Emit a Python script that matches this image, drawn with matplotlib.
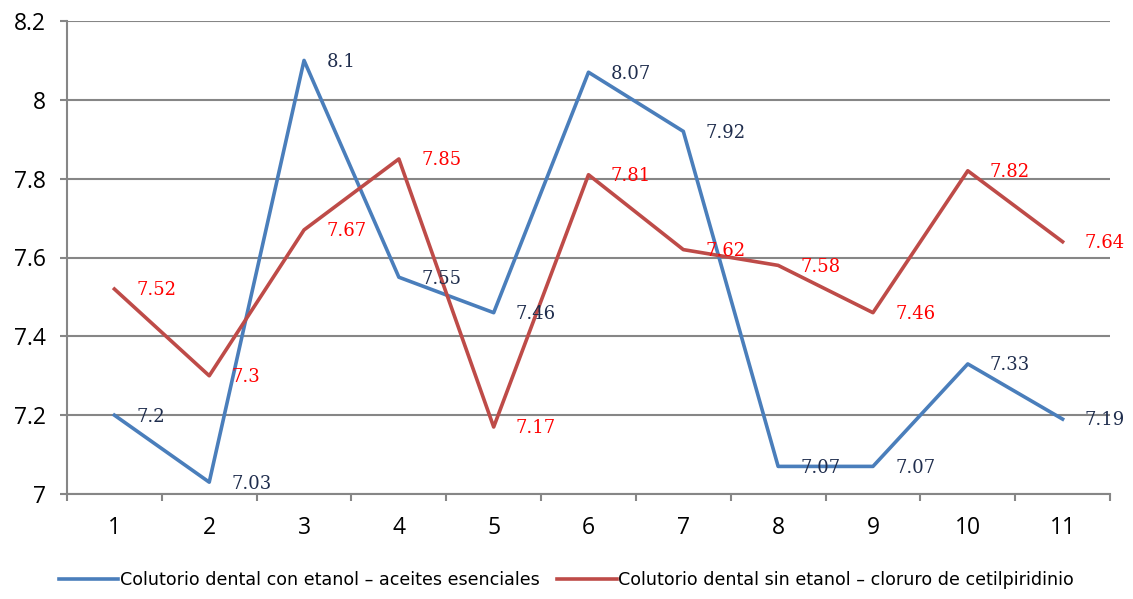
import matplotlib
matplotlib.use("Agg")
import matplotlib.pyplot as plt
import numpy as np

# Datos
muestras = [1, 2, 3, 4, 5, 6, 7, 8, 9, 10, 11]
con_etanol = [7.2, 7.03, 8.1, 7.55, 7.46, 8.07, 7.92, 7.07, 7.07, 7.33, 7.19]
sin_etanol = [7.52, 7.3, 7.67, 7.85, 7.17, 7.81, 7.62, 7.58, 7.46, 7.82, 7.64]
nombre_con = "Colutorio dental con etanol \u2013 aceites esenciales"
nombre_sin = "Colutorio dental sin etanol \u2013 cloruro de cetilpiridinio"

azul = "#4A7EBB"
rojo = "#BE4B48"
gris = "#868686"

fig = plt.figure(figsize=(11.33, 5.99), dpi=100)
ax = fig.add_axes([67 / 1133, 1 - 494 / 599, (1110 - 67) / 1133, (494 - 21) / 599])

ax.plot(muestras, con_etanol, color=azul, lw=2.6, label=nombre_con, zorder=3)
ax.plot(muestras, sin_etanol, color=rojo, lw=2.6, label=nombre_sin, zorder=3)

# etiquetas de datos a la derecha de cada punto
for x, y in zip(muestras, con_etanol):
    ax.annotate(f"{y:g}", (x, y), xytext=(16, -1), textcoords="offset points",
                ha="left", va="center", fontsize=13, family="DejaVu Serif",
                color="#1F2D4D", zorder=4)
for x, y in zip(muestras, sin_etanol):
    ax.annotate(f"{y:g}", (x, y), xytext=(16, -1), textcoords="offset points",
                ha="left", va="center", fontsize=13, family="DejaVu Serif",
                color="#FF0000", zorder=4)

ax.set_ylim(7, 8.2)
ax.set_yticks(np.arange(7, 8.21, 0.2))
ax.set_yticklabels(["7", "7.2", "7.4", "7.6", "7.8", "8", "8.2"])
ax.set_xlim(0.5, 11.5)
ax.set_xticks(np.arange(0.5, 11.6, 1))
ax.set_xticklabels([])
ax.set_xticks(muestras, minor=True)
ax.set_xticklabels([str(m) for m in muestras], minor=True)

ax.grid(axis="y", color=gris, lw=1.5)
ax.set_axisbelow(True)
for s in ["top", "right"]:
    ax.spines[s].set_visible(False)
for s in ["left", "bottom"]:
    ax.spines[s].set_color(gris)
    ax.spines[s].set_linewidth(1.5)

ax.tick_params(axis="both", which="major", direction="out", length=5,
               width=1.5, color=gris, labelsize=16.5)
ax.tick_params(axis="y", pad=10)
ax.tick_params(axis="x", which="minor", length=0, pad=16, labelsize=16.5)
for lab in ax.get_yticklabels() + ax.get_xticklabels(minor=True):
    lab.set_family("Open Sans")

leg = fig.legend(loc="center", bbox_to_anchor=(0.5, 0.032), ncol=2,
                 frameon=False, handlelength=3.4, handletextpad=0.1,
                 columnspacing=1.0,
                 prop={"family": "DejaVu Sans", "size": 12.6})

fig.savefig("out.png", dpi=100)
